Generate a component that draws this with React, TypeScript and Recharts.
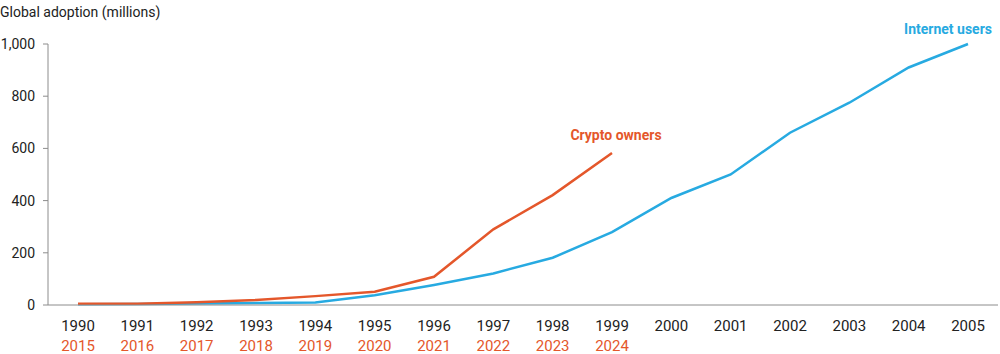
import { LineChart, Line, XAxis, YAxis } from "recharts";

const years = [
  "1990", "1991", "1992", "1993", "1994", "1995", "1996", "1997",
  "1998", "1999", "2000", "2001", "2002", "2003", "2004", "2005",
];
const cryptoYears = [
  "2015", "2016", "2017", "2018", "2019", "2020", "2021", "2022", "2023", "2024",
];
const internetUsers = [3, 4, 6, 8, 10, 37, 77, 121, 181, 279, 410, 500, 660, 775, 910, 1000];
const cryptoOwners = [5, 5, 11, 19, 34, 51, 108, 290, 421, 582];
const yTicks = [0, 200, 400, 600, 800, 1000];

const ORANGE = "#E4572B";
const BLUE = "#27AAE1";
const FONT = "Roboto, sans-serif";

const data = years.map((year, i) => ({
  year,
  cryptoYear: cryptoYears[i] ?? "",
  internet: internetUsers[i],
  crypto: i < cryptoOwners.length ? cryptoOwners[i] : null,
}));

function YearTick(props: any) {
  const { x, y, payload } = props;
  const row = data[payload.index];
  return (
    <text x={x} y={y} textAnchor="middle" fontFamily={FONT} fontSize={15}>
      <tspan x={x} dy={26} fill="#222">
        {row.year}
      </tspan>
      {row.cryptoYear && (
        <tspan x={x} dy={20} fill={ORANGE}>
          {row.cryptoYear}
        </tspan>
      )}
    </text>
  );
}

function endLabel(text: string, color: string, last: number, dx: number, dy: number) {
  return (props: any) => {
    const { x, y, index } = props;
    if (index !== last) return null;
    return (
      <text
        x={x + dx}
        y={y + dy}
        textAnchor="middle"
        fill={color}
        fontFamily={FONT}
        fontSize={14}
        fontWeight="bold"
      >
        {text}
      </text>
    );
  };
}

export default function App() {
  return (
    <div style={{ position: "absolute", left: 0, top: 0, background: "#fff" }}>
      <div
        style={{
          position: "absolute",
          left: 0,
          top: 4,
          fontFamily: FONT,
          fontSize: 14,
          color: "#222",
          whiteSpace: "nowrap",
        }}
      >
        Global adoption (millions)
      </div>
      <LineChart
        width={1000}
        height={354}
        data={data}
        margin={{ top: 44, right: 2, bottom: 0, left: 0 }}
      >
        <XAxis
          dataKey="year"
          height={49}
          padding={{ left: 30, right: 30 }}
          tickLine={false}
          tickSize={0}
          tickMargin={0}
          interval={0}
          axisLine={{ stroke: "#8c8c8c" }}
          tick={<YearTick />}
        />
        <YAxis
          width={48}
          domain={[0, 1000]}
          ticks={yTicks}
          tickSize={5}
          tickMargin={8}
          axisLine={{ stroke: "#8c8c8c" }}
          tickLine={{ stroke: "#8c8c8c" }}
          tick={{ fill: "#222", fontFamily: FONT, fontSize: 14 }}
          tickFormatter={(v) => Number(v).toLocaleString("en-US")}
        />
        <Line
          dataKey="internet"
          stroke={BLUE}
          strokeWidth={2.5}
          dot={false}
          isAnimationActive={false}
          label={endLabel("Internet users", BLUE, years.length - 1, -20, -10)}
        />
        <Line
          dataKey="crypto"
          stroke={ORANGE}
          strokeWidth={2.5}
          dot={false}
          isAnimationActive={false}
          label={endLabel("Crypto owners", ORANGE, cryptoOwners.length - 1, 4, -13)}
        />
      </LineChart>
    </div>
  );
}
